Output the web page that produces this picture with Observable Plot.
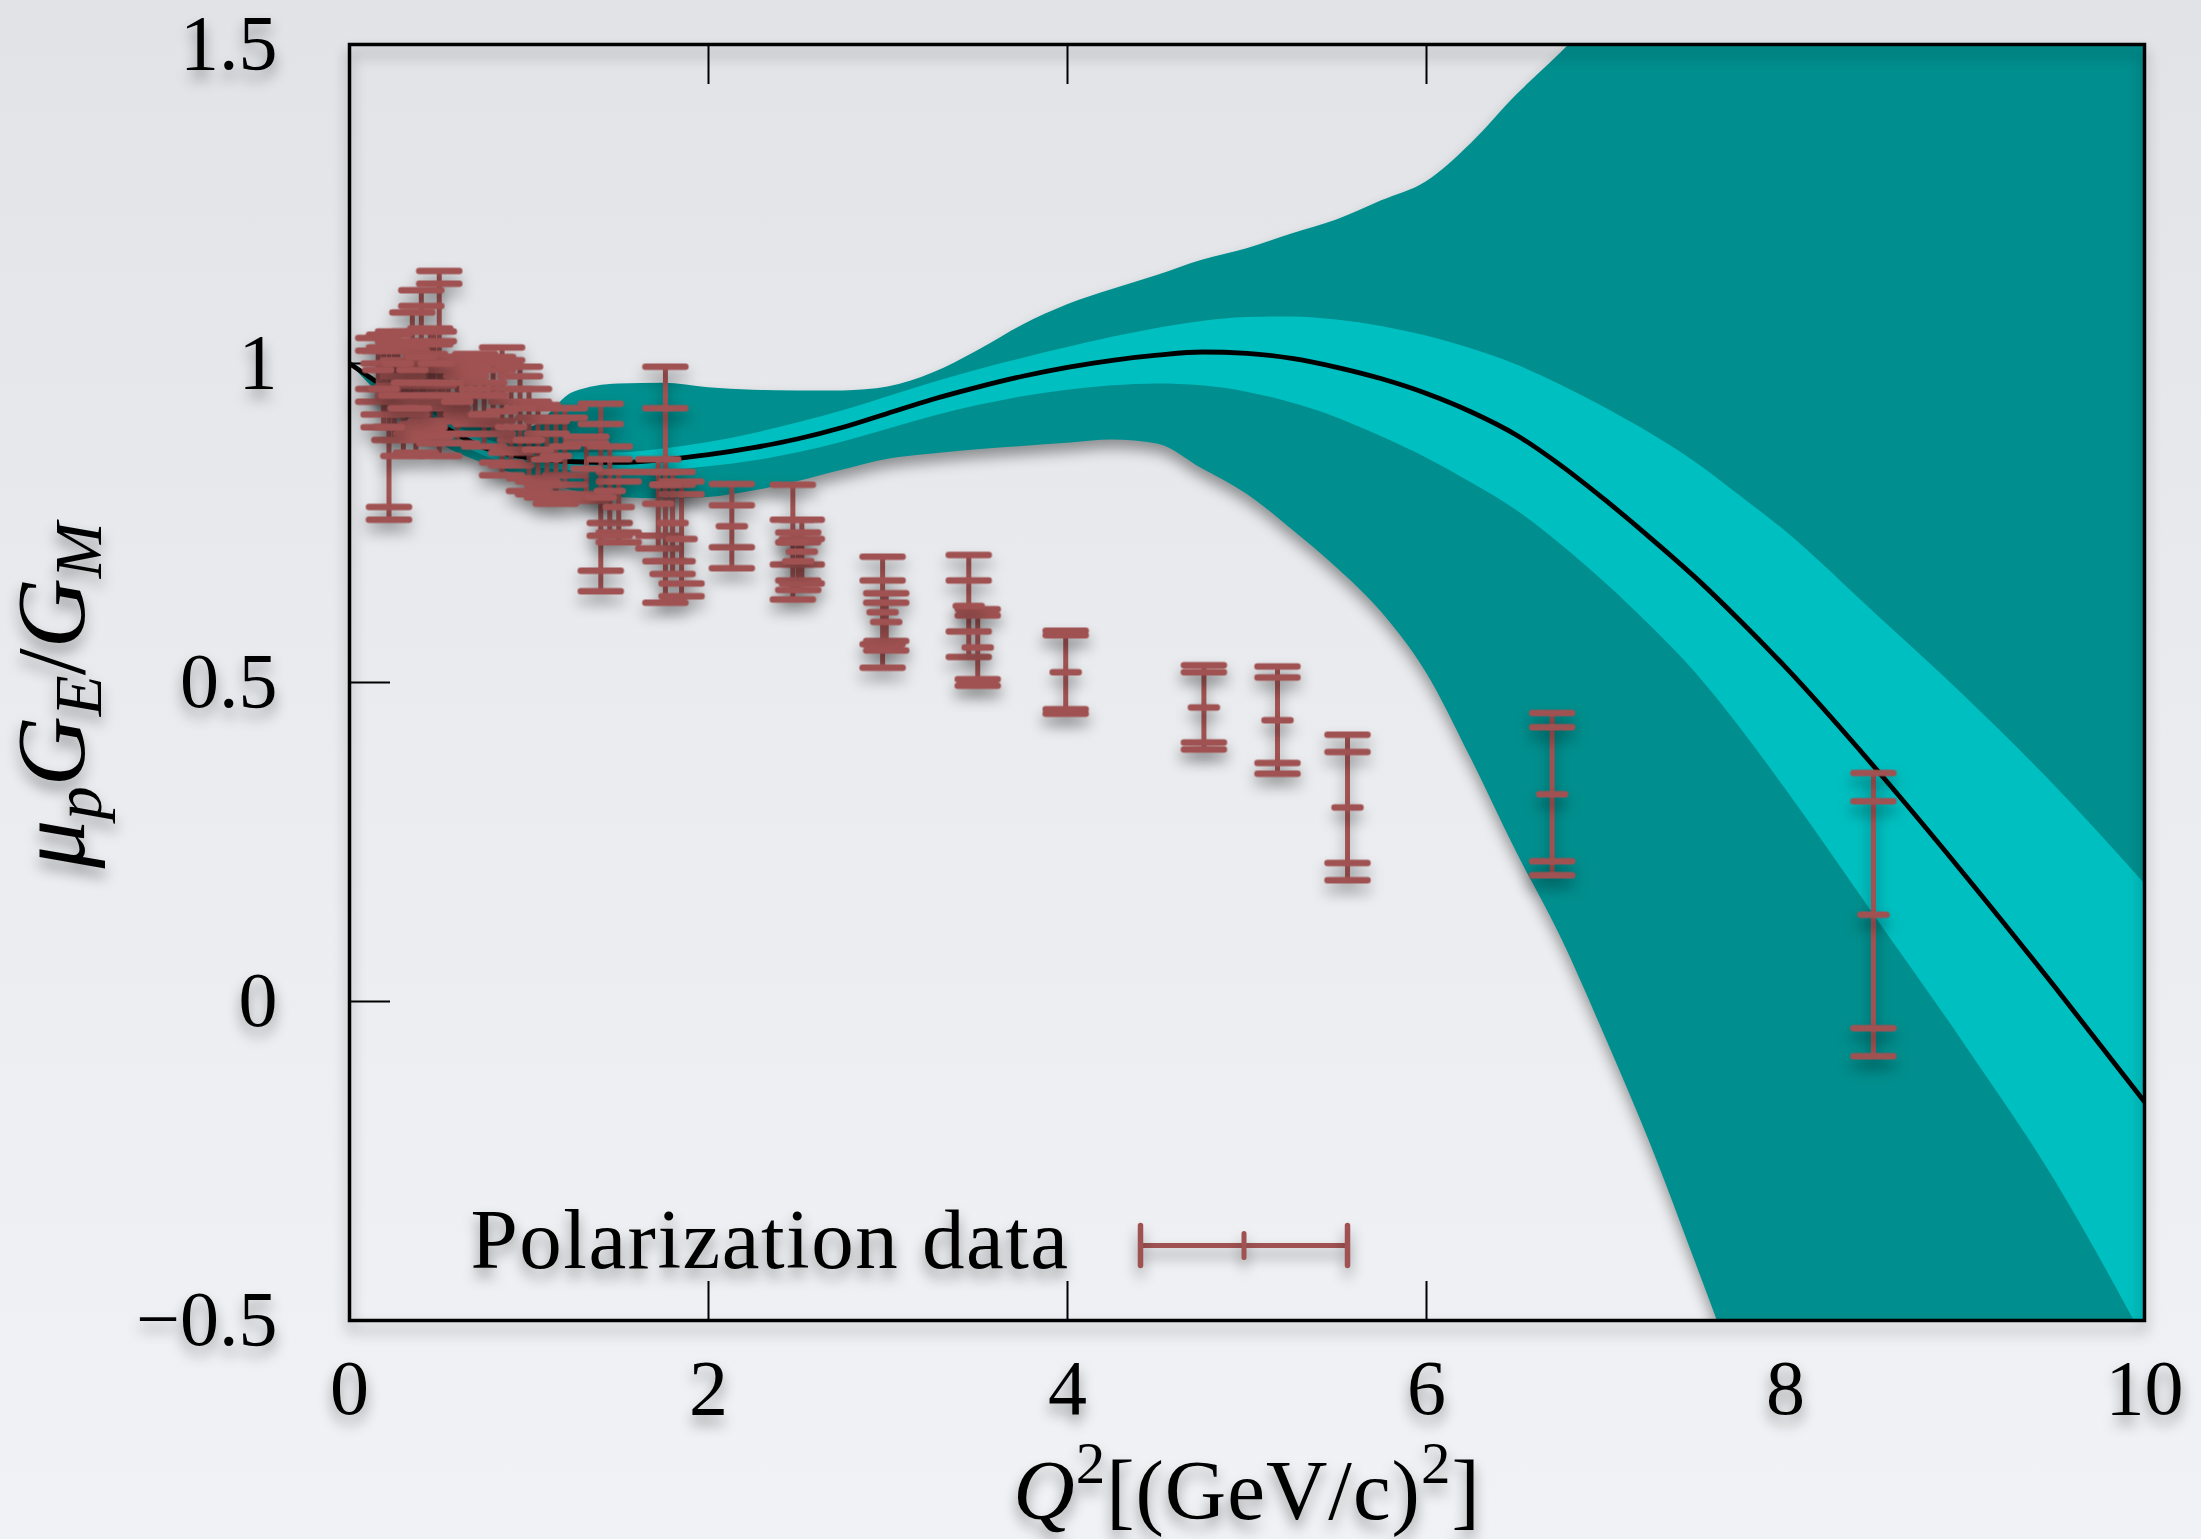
<!DOCTYPE html>
<html><head><meta charset="utf-8">
<script src="https://cdn.jsdelivr.net/npm/d3@7"></script>
<script src="https://cdn.jsdelivr.net/npm/@observablehq/plot@0.6"></script>
<style>
html,body{margin:0;padding:0;}
body{width:2201px;height:1539px;overflow:hidden;background:linear-gradient(180deg,#e1e3e7 0%,#eaecef 50%,#f1f2f5 100%);}
#chart svg{display:block;}
.shadow{filter:drop-shadow(0px 9px 7px rgba(0,0,0,0.38));}
</style></head><body><div id="chart"></div>
<script>
// ---- fit bands (Q^2 grid) ----
const gridQ2 = [0,0.25,0.5,0.75,1,1.25,1.5,1.75,2,2.25,2.5,2.75,3,3.25,3.5,3.75,4,4.25,4.5,4.75,5,5.25,5.5,5.75,6,6.25,6.5,6.75,7,7.25,7.5,7.75,8,8.5,9,9.5,10];
const centralFit = [1.0,0.952,0.905,0.868,0.852,0.846,0.845,0.849,0.857,0.868,0.882,0.9,0.922,0.944,0.963,0.98,0.994,1.005,1.013,1.018,1.016,1.008,0.994,0.976,0.953,0.924,0.888,0.84,0.785,0.726,0.664,0.596,0.524,0.366,0.198,0.023,-0.157];
const innerHigh = [1.0,0.958,0.915,0.882,0.866,0.86,0.86,0.866,0.876,0.89,0.907,0.926,0.948,0.97,0.99,1.008,1.025,1.041,1.055,1.066,1.072,1.073,1.068,1.058,1.043,1.023,0.998,0.966,0.93,0.89,0.845,0.792,0.737,0.608,0.478,0.338,0.185];
const innerLow = [1.0,0.946,0.895,0.855,0.838,0.832,0.83,0.832,0.838,0.847,0.86,0.877,0.897,0.917,0.934,0.948,0.958,0.965,0.968,0.965,0.955,0.938,0.915,0.885,0.852,0.813,0.77,0.716,0.655,0.588,0.515,0.428,0.333,0.133,-0.068,-0.28,-0.53];
const outerHigh = [1.0,0.96,0.925,0.9,0.9,0.955,0.968,0.969,0.962,0.958,0.957,0.957,0.963,0.985,1.02,1.06,1.092,1.116,1.138,1.162,1.18,1.203,1.225,1.255,1.285,1.345,1.42,1.487,1.56,1.63,1.7,1.77,1.84,1.98,2.1,2.2,2.3];
const outerLow = [1.0,0.93,0.875,0.843,0.82,0.8,0.79,0.788,0.79,0.8,0.815,0.833,0.85,0.858,0.865,0.87,0.875,0.88,0.874,0.835,0.795,0.74,0.68,0.61,0.515,0.38,0.235,0.1,-0.058,-0.225,-0.41,-0.6,-0.8,-1.2,-1.6,-2.0,-2.4];

// ---- polarization data ----
const dataQ2 =    [0.16,0.19,0.22,0.25,0.27,0.30,0.32,0.35,0.37,0.40,0.42,0.45,0.47,0.50,0.52,0.55,0.60,0.65,0.70,0.75,0.80,0.85,0.90,0.95,1.00,1.05,1.10,1.15,1.20,1.32,1.40,1.45,1.50,1.72,1.76,1.80,1.85,2.13,2.47,2.50,2.52,2.97,2.99,3.45,3.50,3.99,4.76,5.17,5.56,6.70,8.49];
const dataRatio = [0.99,0.96,0.90,0.95,1.00,0.93,0.97,0.99,0.93,1.01,0.95,0.97,1.00,1.00,0.95,0.97,0.94,0.95,0.96,0.92,0.95,0.925,0.90,0.93,0.88,0.865,0.85,0.855,0.87,0.835,0.79,0.80,0.775,0.78,0.81,0.75,0.725,0.745,0.72,0.69,0.705,0.61,0.595,0.62,0.555,0.516,0.461,0.441,0.304,0.325,0.136];
const dataStat =  [0.03,0.04,0.125,0.05,0.035,0.05,0.03,0.06,0.04,0.08,0.05,0.06,0.035,0.125,0.04,0.03,0.05,0.03,0.04,0.03,0.04,0.08,0.04,0.05,0.06,0.05,0.04,0.06,0.045,0.04,0.115,0.05,0.04,0.05,0.12,0.06,0.07,0.033,0.035,0.03,0.02,0.05,0.03,0.04,0.05,0.058,0.055,0.067,0.087,0.105,0.178];
const dataTotal = [0.05,0.06,0.145,0.07,0.05,0.075,0.05,0.09,0.07,0.105,0.065,0.085,0.05,0.145,0.06,0.04,0.065,0.04,0.055,0.05,0.06,0.10,0.06,0.065,0.08,0.07,0.06,0.075,0.06,0.05,0.147,0.07,0.055,0.07,0.185,0.08,0.09,0.066,0.09,0.045,0.05,0.087,0.045,0.08,0.06,0.065,0.066,0.084,0.114,0.127,0.222];

// ---- ticks & texts ----
const xTicks = [0,2,4,6,8,10];
const xTickLabels = ["0","2","4","6","8","10"];
const yTicks = [-0.5,0,0.5,1,1.5];
const yTickLabels = ["\u22120.5","0","0.5","1","1.5"];
const xInnerTicks = [2,4,6,8];
const yInnerTicks = [0,0.5,1];
const legendLabel = "Polarization data";
const xLabel = "Q2[(GeV/c)2]";
const yLabel = "\u03bcpGE/GM";

const DARK = "#008f8e", LIGHT = "#00bfc0", BAR = "#a05252";

const band = gridQ2.map((q,i)=>({q, c: centralFit[i], il: innerLow[i], ih: innerHigh[i], ol: outerLow[i], oh: outerHigh[i]}));
const points = dataQ2.map((q,i)=>({q, v: dataRatio[i], s: dataStat[i], t: dataTotal[i]}));
const caps = points.flatMap(d => [d.v - d.t, d.v - d.s, d.v + d.s, d.v + d.t].map(y => ({q: d.q, y})));

const hline = {draw(ctx, size){ const r = Math.sqrt(size/Math.PI); ctx.moveTo(-r,0); ctx.lineTo(r,0);} };
const vline = {draw(ctx, size){ const r = Math.sqrt(size/Math.PI); ctx.moveTo(0,-r); ctx.lineTo(0,r);} };

const chart = Plot.plot({
  width: 2201, height: 1539,
  marginLeft: 349, marginRight: 57, marginTop: 44, marginBottom: 219,
  style: {fontFamily: '"Liberation Serif", serif', background: "transparent", overflow: "visible", color: "black"},
  x: {domain: [0, 10]},
  y: {domain: [-0.5, 1.5]},
  marks: [
    // inward ticks (under the bands)
    Plot.axisX({ticks: xInnerTicks, anchor: "top", frameAnchor: "bottom", tickSize: 40, tickFormat: () => "", label: null, strokeWidth: 2}),
    Plot.axisX({ticks: xInnerTicks, anchor: "bottom", frameAnchor: "top", tickSize: 40, tickFormat: () => "", label: null, strokeWidth: 2}),
    Plot.axisY({ticks: yInnerTicks, anchor: "right", frameAnchor: "left", tickSize: 40, tickFormat: () => "", label: null, strokeWidth: 2}),
    Plot.axisY({ticks: yInnerTicks, anchor: "left", frameAnchor: "right", tickSize: 40, tickFormat: () => "", label: null, strokeWidth: 2}),
    // tick labels
    Plot.axisX({ticks: xTicks, anchor: "bottom", tickSize: 0, tickPadding: 38, fontSize: 78, label: null, tickFormat: d => xTickLabels[xTicks.indexOf(d)]}),
    Plot.axisY({ticks: yTicks, anchor: "left", tickSize: 0, tickPadding: 72, fontSize: 78, label: null, tickFormat: d => yTickLabels[yTicks.indexOf(d)]}),
    // bands & central fit
    Plot.areaY(band, {x: "q", y1: "ol", y2: "oh", fill: DARK, curve: "monotone-x", clip: true}),
    Plot.areaY(band, {x: "q", y1: "il", y2: "ih", fill: LIGHT, curve: "monotone-x", clip: true}),
    Plot.line(band, {x: "q", y: "c", stroke: "black", strokeWidth: 4.8, curve: "monotone-x", clip: true}),
    Plot.frame({stroke: "black", strokeWidth: 3.5}),
    // error bars
    Plot.ruleX(points, {x: "q", y1: d => d.v - d.t, y2: d => d.v + d.t, stroke: BAR, strokeWidth: 5}),
    Plot.dot(caps, {x: "q", y: "y", symbol: hline, r: 20, stroke: BAR, strokeWidth: 6.5, strokeLinecap: "round", fill: "none"}),
    Plot.dot(points, {x: "q", y: "v", symbol: hline, r: 13, stroke: BAR, strokeWidth: 6.5, strokeLinecap: "round", fill: "none"}),
    // legend
    Plot.text([legendLabel], {frameAnchor: "bottom-left", text: d => d, dx: 121, dy: -53, textAnchor: "start", lineAnchor: "bottom", fontSize: 85, fill: "black"}),
    Plot.dot([legendLabel], {frameAnchor: "bottom-left", dx: 894.5, dy: -75, symbol: hline, r: 103.5, stroke: BAR, strokeWidth: 5, fill: "none"}),
    Plot.dot([legendLabel], {frameAnchor: "bottom-left", dx: 791, dy: -75, symbol: vline, r: 20, stroke: BAR, strokeWidth: 5.5, strokeLinecap: "round", fill: "none"}),
    Plot.dot([legendLabel], {frameAnchor: "bottom-left", dx: 998, dy: -75, symbol: vline, r: 20, stroke: BAR, strokeWidth: 5.5, strokeLinecap: "round", fill: "none"}),
    Plot.dot([legendLabel], {frameAnchor: "bottom-left", dx: 894.5, dy: -75, symbol: vline, r: 12, stroke: BAR, strokeWidth: 5, strokeLinecap: "round", fill: "none"}),
    // axis titles
    Plot.text([xLabel], {frameAnchor: "bottom", text: d => d, dy: 198, textAnchor: "middle", lineAnchor: "bottom", fontSize: 85, fill: "black"}),
    Plot.text([yLabel], {frameAnchor: "left", text: d => d, dx: -266, dy: 13, rotate: -90, textAnchor: "middle", lineAnchor: "bottom", fontSize: 97, fill: "black"})
  ]
});

document.getElementById("chart").appendChild(chart);

// rich text for axis titles (italic letters, sub/superscripts)
function rebuild(el, parts) {
  el.textContent = "";
  for (const p of parts) {
    const ts = document.createElementNS("http://www.w3.org/2000/svg", "tspan");
    ts.textContent = p.t;
    if (p.i) ts.setAttribute("font-style", "italic");
    if (p.s) ts.setAttribute("font-size", p.s);
    if (p.dy) ts.setAttribute("dy", p.dy);
    el.appendChild(ts);
  }
}
d3.select(chart).selectAll("text").each(function() {
  const t = this.textContent;
  if (t === xLabel) {
    this.setAttribute("letter-spacing", "1");
    rebuild(this, [
      {t: "Q", i: true},
      {t: "2", s: 59, dy: -36},
      {t: "[(GeV/c)", dy: 36},
      {t: "2", s: 59, dy: -36},
      {t: "]", dy: 36}
    ]);
  } else if (t === yLabel) {
    rebuild(this, [
      {t: "\u03bc", i: true},
      {t: "p", i: true, s: 67, dy: 17},
      {t: "G", i: true, dy: -17},
      {t: "E", i: true, s: 67, dy: 17},
      {t: "/", dy: -17},
      {t: "G", i: true},
      {t: "M", i: true, s: 67, dy: 17}
    ]);
  } else if (t === legendLabel) {
    this.setAttribute("letter-spacing", "1.5");
  }
});

// drop shadows like the reference slide
chart.querySelectorAll("[aria-label]").forEach(el => {
  const a = el.getAttribute("aria-label");
  if (["frame", "rule", "dot", "text", "x-axis tick label", "y-axis tick label"].includes(a)) el.classList.add("shadow");
});
const areas = chart.querySelectorAll('[aria-label="area"]');
if (areas.length) areas[0].classList.add("shadow");
</script></body></html>
